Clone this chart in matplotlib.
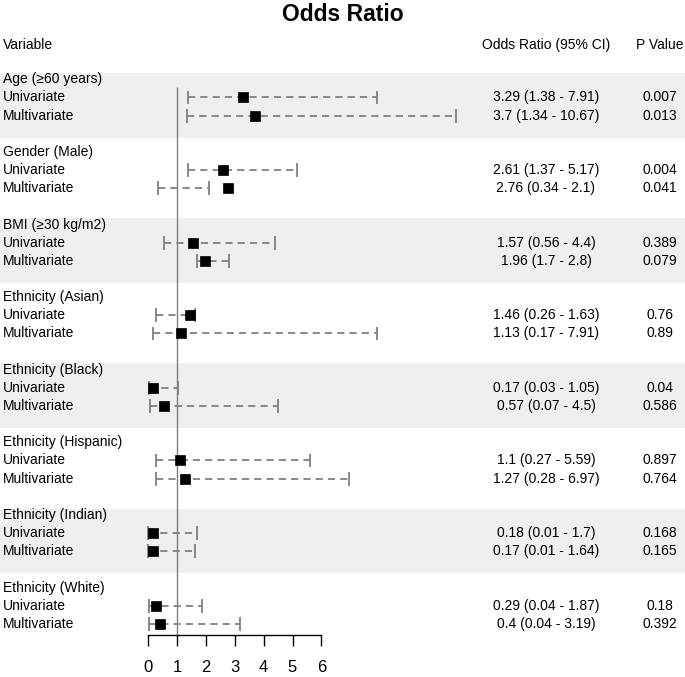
import matplotlib.pyplot as plt

plt.rcParams["font.family"] = ["Liberation Sans", "DejaVu Sans"]

groups = ["Age (≥60 years)", "Gender (Male)", "BMI (≥30 kg/m2)", "Ethnicity (Asian)",
          "Ethnicity (Black)", "Ethnicity (Hispanic)", "Ethnicity (Indian)", "Ethnicity (White)"]

uni_or = [3.29, 2.61, 1.57, 1.46, 0.17, 1.1, 0.18, 0.29]
uni_lo = [1.38, 1.37, 0.56, 0.26, 0.03, 0.27, 0.01, 0.04]
uni_hi = [7.91, 5.17, 4.4, 1.63, 1.05, 5.59, 1.7, 1.87]
uni_p = ["0.007", "0.004", "0.389", "0.76", "0.04", "0.897", "0.168", "0.18"]

multi_or = [3.7, 2.76, 1.96, 1.13, 0.57, 1.27, 0.17, 0.4]
multi_lo = [1.34, 0.34, 1.7, 0.17, 0.07, 0.28, 0.01, 0.04]
multi_hi = [10.67, 2.1, 2.8, 7.91, 4.5, 6.97, 1.64, 3.19]
multi_p = ["0.013", "0.041", "0.079", "0.89", "0.586", "0.764", "0.165", "0.392"]

x_ticks = [0, 1, 2, 3, 4, 5, 6]

# vertical layout in "row" units (row 0 = header line)
ROW_TOP = -2.37
ROW_BOTTOM = 34.93
AXIS_ROW = 32.6

# column positions (figure fraction)
COL_VAR = 0.004
COL_OR = 0.797
COL_P = 0.9635

CI_COLOR = "#808080"
BAND_COLOR = "#efefef"
TXT = 10


def draw_ci(ax, est, lo, hi, row):
    """Одна строка: пунктирный интервал, засечки и квадрат."""
    ax.plot([lo, hi], [row, row], color=CI_COLOR, lw=1.3,
            linestyle=(0, (4, 2.8)), zorder=2)
    ax.vlines([lo, hi], row - 0.38, row + 0.38, color=CI_COLOR, lw=1.3, zorder=2)
    ax.plot([est], [row], marker="s", color="black", markersize=7.1,
            markeredgewidth=0.5, zorder=3)


def main():
    fig = plt.figure(figsize=(6.85, 6.77), dpi=100)

    table = fig.add_axes([0, 0, 1, 1])
    table.set_xlim(0, 1)
    table.set_ylim(ROW_BOTTOM, ROW_TOP)
    table.axis("off")

    table.text(0.5, -1.56, "Odds Ratio", ha="center", va="center",
               fontsize=16.5, fontweight="bold")
    table.text(COL_VAR, 0.1, "Variable", ha="left", va="center", fontsize=TXT)
    table.text(COL_OR, 0.1, "Odds Ratio (95% CI)", ha="center", va="center", fontsize=TXT)
    table.text(COL_P, 0.1, "P Value", ha="center", va="center", fontsize=TXT)

    forest = fig.add_axes([140 / 685, 0, 340 / 685, 1])
    forest.set_xlim(-8 / 28.9, 340 / 28.9 - 8 / 28.9)
    forest.set_ylim(ROW_BOTTOM, ROW_TOP)
    forest.patch.set_visible(False)

    for i, name in enumerate(groups):
        row = 2 + 4 * i
        if i % 2 == 0:
            table.axhspan(row - 0.35, row + 3.22, color=BAND_COLOR, lw=0, zorder=0)

        table.text(COL_VAR, row, name, ha="left", va="center", fontsize=TXT)
        table.text(COL_VAR, row + 1, "Univariate", ha="left", va="center", fontsize=TXT)
        table.text(COL_VAR, row + 2, "Multivariate", ha="left", va="center", fontsize=TXT)

        table.text(COL_OR, row + 1, f"{uni_or[i]} ({uni_lo[i]} - {uni_hi[i]})",
                   ha="center", va="center", fontsize=TXT)
        table.text(COL_OR, row + 2, f"{multi_or[i]} ({multi_lo[i]} - {multi_hi[i]})",
                   ha="center", va="center", fontsize=TXT)
        table.text(COL_P, row + 1, uni_p[i], ha="center", va="center", fontsize=TXT)
        table.text(COL_P, row + 2, multi_p[i], ha="center", va="center", fontsize=TXT)

        draw_ci(forest, uni_or[i], uni_lo[i], uni_hi[i], row + 1)
        draw_ci(forest, multi_or[i], multi_lo[i], multi_hi[i], row + 2)

    # линия отсчёта OR = 1
    forest.vlines(1, 2.42, AXIS_ROW, color="#7f7f7f", lw=1, zorder=1)

    for side in ["top", "right", "left"]:
        forest.spines[side].set_visible(False)
    forest.spines["bottom"].set_position(("data", AXIS_ROW))
    forest.spines["bottom"].set_bounds(0, 6)
    forest.spines["bottom"].set_linewidth(1)
    forest.set_yticks([])
    forest.set_xticks(x_ticks)
    forest.set_xticklabels([str(t) for t in x_ticks])
    forest.tick_params(axis="x", direction="out", length=8, width=1,
                       labelsize=12, pad=10)

    fig.savefig("out.png", dpi=100)


if __name__ == "__main__":
    main()
